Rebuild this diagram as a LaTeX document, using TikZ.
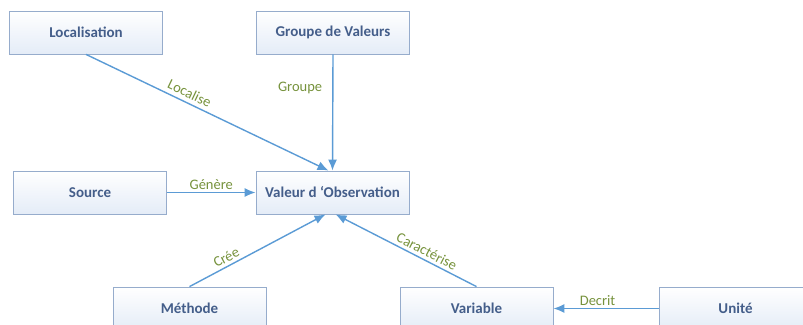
\documentclass[tikz,border=0pt]{standalone}
\usepackage{fontspec}
\setmainfont{Carlito}
\usepackage{xcolor}
\usepackage{tikz}
\usetikzlibrary{positioning,arrows.meta}
\definecolor{obsblue}{RGB}{91,155,213}
\definecolor{obsframe}{RGB}{150,172,204}
\definecolor{obsfill}{RGB}{228,236,247}
\definecolor{obstext}{RGB}{68,94,138}
\definecolor{obsgreen}{RGB}{118,146,60}

\begin{document}
\begin{tikzpicture}[x=1pt, y=-1pt,
        entity/.style={rectangle, draw=obsframe, line width=0.8pt, top color=white, bottom color=obsfill, minimum width=153pt, minimum height=43pt, text=obstext, font=\bfseries\fontsize{15}{17}\selectfont},
        link/.style={-{Latex[length=11pt,width=9pt]}, line width=1.4pt, obsblue},
        rel/.style={text=obsgreen, inner sep=1pt, font=\fontsize{14.5}{16}\selectfont}
    ]
        \useasboundingbox (0,0) rectangle (803,324);
        \clip (0,0) rectangle (803,324);

        % Top row
        \node[entity] (loc) at (86,32.5) {Localisation};
        \node[entity] (grp) at (333,32.5) {Groupe de Valeurs};

        % Middle row
        \node[entity] (src) at (90,192.5) {Source};
        \node[entity] (obs) at (332.5,192.5) {Valeur d ‘Observation};

        % Bottom row
        \node[entity] (meth) at (189.5,308.5) {Méthode};
        \node[entity] (var) at (476.5,308.5) {Variable};
        \node[entity] (unit) at (735.5,308.5) {Unité};

        % Arrows
        \draw[link] (loc.south) -- node[rel, sloped, above=3pt, pos=0.41] {Localise} ([xshift=-4pt]obs.north);
        \draw[link] (grp.south) -- node[rel, left=9pt, pos=0.29] {Groupe} (obs.north);
        \draw[link] (src.east) -- node[rel, above=1pt] {Génère} (obs.west);
        \draw[link] (meth.north) -- node[rel, sloped, above=2pt, pos=0.3] {Crée} ([xshift=-7pt]obs.south);
        \draw[link] (var.north) -- node[rel, sloped, above=2pt, pos=0.38] {Caractérise} ([xshift=3pt]obs.south);
        \draw[link] (unit.west) -- node[rel, above=1pt, pos=0.58] {Decrit} (var.east);
    \end{tikzpicture}
\end{document}
